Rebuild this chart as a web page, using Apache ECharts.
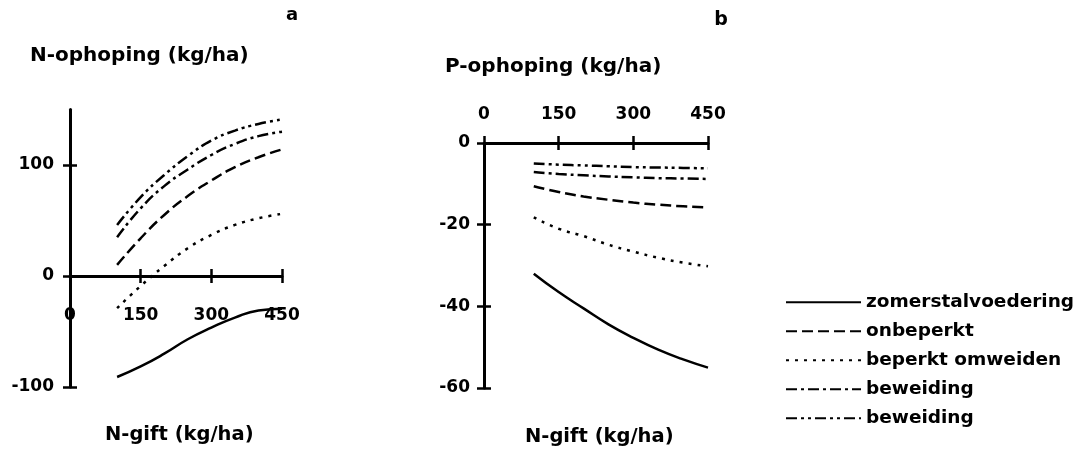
<!DOCTYPE html>
<html><head><meta charset="utf-8">
<script src="https://cdn.jsdelivr.net/npm/echarts@6/dist/echarts.min.js"></script>
<style>html,body{margin:0;padding:0;background:#fff}#c{width:1091px;height:470px}</style>
</head><body><div id="c"></div>
<script>
// N-gift (kg/ha) levels
const nGift = [100, 150, 200, 250, 300, 350, 400, 450];
const xTickValues = [0, 150, 300, 450];
const yTicksA = [-100, 0, 100];
const yTicksB = [0, -20, -40, -60];
const seriesNames = ['zomerstalvoedering', 'onbeperkt', 'beperkt omweiden', 'beweiding', 'beweiding '];

// Panel a: N-ophoping (kg/ha)
const a_zomerstal = [-91, -81.5, -70, -57, -46.5, -37.5, -31, -29.5];
const a_onbeperkt = [10, 34, 55, 72, 86, 98, 107, 114];
const a_beperkt = [-29, -9, 9, 25, 37, 46, 52, 56];
const a_beweiding1 = [35, 61, 81, 96, 109, 119, 126, 130];
const a_beweiding2 = [46, 71, 91, 108, 122, 131, 137, 141];

// Panel b: P-ophoping (kg/ha)
const b_zomerstal = [-32, -36.5, -40.5, -44.4, -47.7, -50.6, -53, -55];
const b_onbeperkt = [-10.6, -12, -13.1, -13.9, -14.6, -15.1, -15.5, -15.8];
const b_beperkt = [-18.2, -21, -22.8, -24.9, -26.6, -28.1, -29.3, -30.2];
const b_beweiding1 = [-7.1, -7.6, -7.9, -8.2, -8.4, -8.6, -8.7, -8.8];
const b_beweiding2 = [-5, -5.3, -5.5, -5.7, -5.9, -6, -6.1, -6.2];

const FONT = 'DejaVu Sans';
const dashes = ['solid', [11, 5], [3, 6], [11, 4, 3, 4], [11, 4, 3, 4, 3, 4]];
const toPairs = vals => nGift.map((x, i) => [x, vals[i]]);

const axisLineStyle = { show: true, lineStyle: { color: '#000', width: 3 } };
const tickStyle = { color: '#000', width: 2.5 };
const labelStyle = { color: '#000', fontFamily: FONT, fontWeight: 'bold', fontSize: 17 };

function mkX(grid, position, offset, margin, inner) {
  return {
    type: 'value', gridIndex: grid, min: 0, max: 450, interval: 150, position: position, offset: offset,
    axisLine: inner ? { show: false, onZero: false } : Object.assign({}, axisLineStyle, { onZero: false }),
    axisTick: { show: true, inside: !!inner, length: 7, lineStyle: tickStyle, customValues: xTickValues },
    axisLabel: inner ? { show: false } : Object.assign({ margin: margin, customValues: xTickValues }, labelStyle),
    splitLine: { show: false }
  };
}
function mkY(grid, min, max, interval, ticks, margin, inner) {
  return {
    type: 'value', gridIndex: grid, min: min, max: max, interval: interval, position: 'left',
    axisLine: inner ? { show: false, onZero: false } : Object.assign({}, axisLineStyle, { onZero: false }),
    axisTick: { show: true, inside: !!inner, length: 7, lineStyle: tickStyle, customValues: ticks },
    axisLabel: inner ? { show: false } : Object.assign({ margin: margin, customValues: ticks }, labelStyle),
    splitLine: { show: false }
  };
}

const dataA = [a_zomerstal, a_onbeperkt, a_beperkt, a_beweiding1, a_beweiding2];
const dataB = [b_zomerstal, b_onbeperkt, b_beperkt, b_beweiding1, b_beweiding2];
const series = [];
dataA.forEach((d, i) => series.push({
  name: seriesNames[i], type: 'line', xAxisIndex: 0, yAxisIndex: 0, smooth: true, symbol: 'none',
  data: toPairs(d), lineStyle: { color: '#000', width: 2.5, type: dashes[i] }, itemStyle: { color: '#000' }
}));
dataB.forEach((d, i) => series.push({
  name: seriesNames[i], type: 'line', xAxisIndex: 2, yAxisIndex: 2, smooth: true, symbol: 'none',
  data: toPairs(d), lineStyle: { color: '#000', width: 2.5, type: dashes[i] }, itemStyle: { color: '#000' }
}));

const txt = (text, x, y, size, align) => ({
  type: 'text', x: x, y: y,
  style: { text: text, fill: '#000', font: 'bold ' + size + 'px "' + FONT + '"', textAlign: align || 'left', textVerticalAlign: 'middle' }
});

// zero line of panel a: grid top 109.5, height 277.5 over [-100,150]
const zeroOffsetA = -(277.5 * 100 / 250);

const chart = echarts.init(document.getElementById('c'), null, { renderer: 'canvas' });
chart.setOption({
  animation: false,
  backgroundColor: '#fff',
  grid: [
    { left: 70, top: 109.5, width: 212, height: 277.5 },
    { left: 484, top: 143, width: 224, height: 245 }
  ],
  xAxis: [
    mkX(0, 'bottom', zeroOffsetA, 31, false), mkX(0, 'bottom', zeroOffsetA, 0, true),
    mkX(1, 'top', 0, 20, false), mkX(1, 'top', 0, 0, true)
  ],
  yAxis: [
    mkY(0, -100, 150, 100, yTicksA, 16, false), mkY(0, -100, 150, 100, yTicksA, 0, true),
    mkY(1, -60, 0, 20, yTicksB, 14, false), mkY(1, -60, 0, 20, yTicksB, 0, true)
  ],
  legend: {
    data: seriesNames, orient: 'vertical', left: 780, top: 287,
    itemWidth: 75, itemHeight: 14, itemGap: 8.5, selectedMode: false,
    itemStyle: { opacity: 0 },
    formatter: n => n.trim(),
    textStyle: { color: '#000', fontFamily: FONT, fontWeight: 'bold', fontSize: 18.5, lineHeight: 20.5 }
  },
  graphic: [
    txt('a', 292, 15, 18, 'center'),
    txt('N-ophoping (kg/ha)', 30, 56, 20),
    txt('N-gift (kg/ha)', 105, 435, 19.5),
    txt('b', 721, 20, 19, 'center'),
    txt('P-ophoping (kg/ha)', 445, 67, 20),
    txt('N-gift (kg/ha)', 525, 437, 19.5)
  ],
  series: series
});
</script></body></html>
